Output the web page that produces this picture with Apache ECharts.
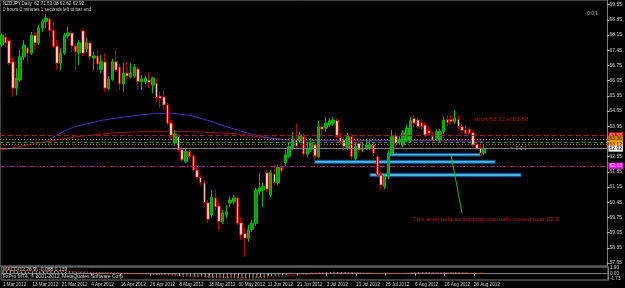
<!DOCTYPE html>
<html><head><meta charset="utf-8">
<script src="https://cdn.jsdelivr.net/npm/echarts@6/dist/echarts.min.js"></script>
<style>html,body{margin:0;padding:0;background:#000;}#c{width:625px;height:288px;}</style>
</head><body><div id="c"></div>
<script>
// ---- data ----
const opens=[67.69,68.06,67.89,66.92,65.71,66.08,67.15,67.56,67.32,68.15,
67.79,68.48,68.77,68.89,68.38,67.65,66.86,67.32,68.11,68.25,
67.65,67.34,68.35,67.51,67.79,67.09,67.19,66.57,66.92,65.70,
66.11,66.92,66.68,65.90,66.40,66.23,66.26,66.59,66.00,66.00,
66.08,65.85,65.94,65.34,65.30,64.93,64.10,63.18,63.47,62.89,
62.32,62.78,62.58,61.93,61.60,61.34,60.43,59.86,60.65,60.28,
59.55,59.86,60.41,60.47,60.65,59.51,59.02,58.79,59.20,59.48,
60.94,61.01,61.81,60.78,61.75,61.35,62.06,62.27,62.58,62.98,
63.32,63.29,63.47,62.67,62.89,63.09,62.55,63.93,63.86,64.01,
64.09,64.21,63.44,63.32,62.93,63.47,62.47,63.17,62.86,62.93,
62.95,63.09,62.55,61.70,61.17,61.63,62.70,63.50,63.24,63.09,
63.32,63.32,64.32,64.24,64.11,64.01,63.75,63.50,63.40,63.32,
63.70,64.27,64.27,64.16,64.27,63.93,63.78,63.81,63.65,63.12,
62.96,62.71];
const closes=[68.15,67.79,66.85,65.70,66.17,67.15,67.69,67.32,68.15,67.79,
68.48,68.77,68.94,68.35,67.61,66.85,67.32,68.15,68.25,67.65,
67.37,67.79,67.31,67.80,67.15,67.19,66.82,66.92,65.70,66.13,
66.92,66.54,65.90,66.40,66.26,66.40,66.68,66.00,66.13,66.17,
65.96,66.17,65.28,65.24,64.93,64.09,63.47,63.59,62.86,62.40,
62.78,62.55,61.93,61.60,61.35,60.43,59.66,60.68,60.24,59.55,
59.95,60.01,60.55,60.65,59.48,58.94,58.79,59.17,59.48,61.01,
61.11,61.17,61.05,61.81,61.35,62.06,61.90,62.63,63.01,63.32,
63.04,63.55,62.67,62.93,63.17,62.58,63.93,63.81,64.09,64.21,
64.24,63.47,63.24,63.01,63.47,62.55,63.01,62.86,62.95,63.09,
63.09,62.70,61.70,61.24,61.63,62.70,63.47,63.17,63.35,63.64,
63.87,64.21,64.09,63.93,63.93,63.55,63.63,63.32,63.70,63.70,
64.24,64.11,64.16,64.32,63.93,63.75,63.63,63.63,63.09,62.93,
62.71,62.92];
const lows=[67.61,67.61,66.77,65.31,65.39,65.99,67.00,66.85,67.23,67.46,
67.69,68.29,68.46,68.00,67.54,66.54,66.54,67.23,68.00,67.38,
66.54,66.77,67.19,67.37,67.00,66.54,66.46,66.39,65.54,65.62,
66.03,66.46,65.62,65.54,66.08,66.16,66.17,65.62,65.62,65.90,
65.70,65.47,65.08,64.78,64.70,64.01,63.32,63.04,62.76,62.30,
62.26,62.40,61.84,61.52,61.20,60.32,59.49,59.72,60.09,59.17,
59.45,59.72,60.24,60.32,59.40,58.71,57.94,58.62,59.08,59.36,
60.78,60.24,60.92,60.69,61.24,61.24,61.80,62.12,62.49,62.86,
62.95,63.18,62.53,62.53,62.76,62.40,62.49,63.55,63.69,63.92,
63.96,63.41,63.13,62.86,62.86,62.40,62.35,62.72,62.76,62.86,
62.86,62.58,61.57,61.01,61.06,61.52,62.63,62.99,63.09,62.99,
63.22,63.22,63.92,63.82,63.78,63.46,63.50,63.22,63.27,63.22,
63.59,63.93,64.01,64.05,63.82,63.64,63.55,63.55,62.99,62.86,
62.58,62.62];
const highs=[68.23,68.23,67.97,67.09,66.62,67.46,67.92,67.61,68.29,68.31,
68.62,68.89,69.12,69.00,68.77,67.92,67.54,68.25,68.54,68.34,
67.74,67.92,68.43,68.02,67.88,67.38,67.46,67.23,67.31,66.26,
67.05,67.46,66.82,66.86,66.92,66.85,66.82,66.68,66.31,66.26,
66.46,66.23,66.16,65.54,65.62,65.02,64.24,63.78,63.59,63.04,
62.95,62.86,62.67,62.17,61.70,61.47,60.55,61.01,61.06,60.41,
60.09,60.32,60.71,60.78,60.74,59.72,59.26,59.40,59.63,61.11,
61.80,61.34,61.93,61.93,62.17,62.17,62.26,62.86,63.18,63.69,
64.09,63.70,63.64,63.18,63.41,63.32,64.19,64.10,64.38,64.33,
64.38,64.33,63.64,63.46,63.64,63.59,63.18,63.32,63.22,63.32,
63.32,63.18,62.67,61.84,61.75,62.86,63.78,63.64,63.50,63.78,
64.01,64.39,64.47,64.38,64.28,64.15,63.92,63.69,63.82,63.82,
64.38,64.47,64.47,64.70,64.42,64.05,64.01,63.92,63.78,63.22,
63.09,63.08];
// moving averages: [bar index, price]
const maBlue=[[12,63.27],[17,63.73],[20,63.94],[27,64.22],[35,64.42],[41,64.53],[46,64.55],[51,64.45],[56,64.22],[62,63.88],[67,63.62],[73,63.40],[78,63.30],[85,63.29],[100,63.29],[110,63.28],[131,63.26]];
const maRed=[[0,62.86],[10,63.18],[20,63.46],[30,63.64],[40,63.72],[50,63.71],[58,63.66],[64,63.59],[70,63.46],[78,63.32],[90,63.28],[105,63.29],[131,63.32]];
// MACD sub window
const macdMain=[1.2,1.15,1.05,0.9,0.8,0.75,0.75,0.72,0.75,0.74,
0.78,0.82,0.85,0.82,0.75,0.62,0.55,0.55,0.56,0.52,
0.46,0.42,0.40,0.36,0.30,0.24,0.17,0.12,0.02,-0.04,
-0.05,-0.08,-0.14,-0.17,-0.19,-0.2,-0.2,-0.24,-0.26,-0.27,
-0.29,-0.3,-0.36,-0.41,-0.47,-0.58,-0.72,-0.8,-0.9,-1.02,
-1.06,-1.1,-1.16,-1.23,-1.3,-1.42,-1.55,-1.58,-1.6,-1.65,
-1.66,-1.65,-1.6,-1.55,-1.58,-1.65,-1.72,-1.7,-1.65,-1.5,
-1.36,-1.24,-1.1,-0.95,-0.85,-0.7,-0.58,-0.42,-0.25,-0.1,
0.0,0.12,0.16,0.2,0.24,0.24,0.34,0.42,0.5,0.56,
0.6,0.56,0.5,0.44,0.42,0.34,0.3,0.26,0.22,0.2,
0.18,0.12,-0.02,-0.15,-0.22,-0.18,-0.08,0.0,0.06,0.12,
0.2,0.3,0.36,0.4,0.42,0.4,0.38,0.32,0.3,0.28,
0.32,0.34,0.36,0.38,0.36,0.32,0.26,0.22,0.12,0.02,
-0.05,-0.068];
const macdSignal=[[0,1.3],[10,0.9],[20,0.6],[30,0.2],[40,-0.2],[50,-0.8],[60,-1.4],[68,-1.6],[75,-1.1],[85,-0.1],[95,0.4],[105,0.0],[115,0.3],[125,0.33],[131,0.139]];
const macdTicks=[1.90,0.00,-1.73];
// horizontal price levels
const levelRed=63.53, levelOrangeHi=63.36, levelGreen=63.22, levelOrangeLo=63.12, levelBid=62.92, levelMagenta=62.13;
// zones: [fromBar, toBar, priceTop, priceBottom]
const zones=[[105,130,62.70,62.58],[85,134,62.38,62.24],[100,141,61.78,61.63]];
const trendLine=[[122,62.63],[125,59.95]];
const priceTicks=[57.65,58.35,59.05,59.75,60.45,61.15,61.85,62.55,63.25,63.95,64.65,65.35,66.05,66.75,67.45,68.15,68.85,69.55];
const tickLabels=['1 Mar 2012','13 Mar 2012','21 Mar 2012','4 Apr 2012','16 Apr 2012','26 Apr 2012','8 May 2012','18 May 2012','30 May 2012','11 Jun 2012','21 Jun 2012','3 Jul 2012','13 Jul 2012','25 Jul 2012','6 Aug 2012','16 Aug 2012','28 Aug 2012'];
const tickStep=8;
const slotCount=165;

// ---- build ----
const cats=Array.from({length:slotCount},(_,i)=>'b'+i);
const candles=opens.map((o,i)=>[o,closes[i],lows[i],highs[i]]);
const F='"Liberation Sans", Arial, sans-serif';
const axisGrey='#808080';
function priceLabel(v,bg,fg){return {yAxis:v,label:{show:true,position:'end',distance:1,formatter:v.toFixed(2),backgroundColor:bg,color:fg,fontSize:5,fontFamily:F,padding:[1,1,0,1]}};}
const chart=echarts.init(document.getElementById('c'),null,{renderer:'canvas'});
chart.setOption({
  animation:false,
  backgroundColor:'#000',
  grid:[
    {left:0,right:17,top:0,height:266,show:true,borderColor:axisGrey,borderWidth:1},
    {left:0,right:17,top:267,height:13,show:true,borderColor:axisGrey,borderWidth:1}
  ],
  xAxis:[
    {type:'category',data:cats,gridIndex:0,boundaryGap:true,axisLine:{show:false},axisTick:{show:false},axisLabel:{show:false},splitLine:{show:false}},
    {type:'category',data:cats,gridIndex:1,boundaryGap:true,position:'bottom',
     axisLine:{show:true,lineStyle:{color:axisGrey}},
     axisTick:{show:true,alignWithLabel:true,length:2,interval:(i)=>i%tickStep===0&&i/tickStep<tickLabels.length,lineStyle:{color:'#c0c0c0'}},
     axisLabel:{show:true,interval:(i)=>i%tickStep===0&&i/tickStep<tickLabels.length,formatter:(v,i)=>tickLabels[i/tickStep]||'',align:'left',color:'#d0d0d0',fontSize:4.6,fontFamily:F,margin:2},
     splitLine:{show:false}}
  ],
  yAxis:[
    {type:'value',gridIndex:0,position:'right',min:57.512,max:69.7665,
     axisLine:{show:true,lineStyle:{color:axisGrey}},
     axisTick:{show:true,length:2,customValues:priceTicks,lineStyle:{color:'#c0c0c0'}},
     axisLabel:{show:true,customValues:priceTicks,formatter:(v)=>v.toFixed(2),color:'#d0d0d0',fontSize:5,fontFamily:F,margin:2},
     splitLine:{show:false}},
    {type:'value',gridIndex:1,position:'right',min:-2.3,max:2.3,
     axisLine:{show:true,lineStyle:{color:axisGrey}},
     axisTick:{show:false},
     axisLabel:{show:true,customValues:macdTicks,formatter:(v)=>v.toFixed(2),color:'#d0d0d0',fontSize:4.6,fontFamily:F,margin:2},
     splitLine:{show:false}}
  ],
  series:[
    {type:'line',name:'MA slow',xAxisIndex:0,yAxisIndex:0,data:maRed,symbol:'none',connectNulls:true,lineStyle:{color:'#9e1212',width:1},z:1},
    {type:'line',name:'MA fast',xAxisIndex:0,yAxisIndex:0,data:maBlue,symbol:'none',connectNulls:true,lineStyle:{color:'#4a2cc0',width:1},z:1},
    {type:'candlestick',name:'NZDJPY',xAxisIndex:0,yAxisIndex:0,data:candles,barWidth:3,z:3,
     itemStyle:{color:'#009a00',color0:'#ffc4c4',borderColor:'#00c000',borderColor0:'#b80000',borderWidth:1},
     markLine:{silent:true,symbol:['none','none'],animation:false,
       data:[
         Object.assign(priceLabel(levelRed,'#ff1010','#ffe0e0'),{lineStyle:{color:'#a01818',type:[5,3],width:1}}),
         Object.assign(priceLabel(levelOrangeHi,'#e08a00','#402000'),{lineStyle:{color:'#b08a00',type:[1,2],width:1}}),
         {yAxis:levelGreen,label:{show:false},lineStyle:{color:'#00b000',type:[3,3],width:1}},
         Object.assign(priceLabel(levelOrangeLo,'#ffa020','#402000'),{lineStyle:{color:'#c86400',type:[1,2],width:1}}),
         Object.assign(priceLabel(levelBid,'#ffffff','#000000'),{lineStyle:{color:'#808080',type:'solid',width:1}}),
         Object.assign(priceLabel(levelMagenta,'#ff00ff','#ffffff'),{lineStyle:{color:'#a01888',type:[5,2,1,2],width:1}}),
         [{coord:trendLine[0],label:{show:false},lineStyle:{color:'#00c800',type:'solid',width:1}},{coord:trendLine[1]}]
       ]},
     markArea:{silent:true,itemStyle:{color:'#42b8dc',borderColor:'#1a4c9c',borderWidth:1},
       data:zones.map(z=>[{coord:[z[0],z[2]]},{coord:[z[1],z[3]]}])}
    },
    {type:'bar',name:'MACD',xAxisIndex:1,yAxisIndex:1,data:macdMain,barWidth:1,itemStyle:{color:'#a8a8a8'},z:1},
    {type:'line',name:'Signal',xAxisIndex:1,yAxisIndex:1,data:macdSignal,symbol:'none',connectNulls:true,lineStyle:{color:'#ff2020',type:[1,2],width:1},z:2}
  ],
  graphic:[
    {type:'text',left:3,top:1,style:{text:'NZDJPY,Daily  62.71 63.08 62.62 62.92',fill:'#d8d8d8',font:'4.6px '+F}},
    {type:'text',left:3,top:7,style:{text:'0 hours 0 minutes 1 seconds left to bar end',fill:'#d8d8d8',font:'4.6px '+F}},
    {type:'text',left:587,top:11,style:{text:'0:0:1',fill:'#b0b0b0',font:'5px '+F}},
    {type:'text',left:474,top:116,style:{text:'short 63.22 sl 63.88',fill:'#c8102a',font:'6.2px '+F}},
    {type:'text',left:413,top:216,style:{text:'This level held as support, manually closed near 62.9',fill:'#c8102a',font:'6.2px '+F}},
    {type:'text',left:510,top:146,style:{text:'<  0:0:1',fill:'#a0a0a0',font:'5px '+F}},
    {type:'text',left:3,top:267.5,style:{text:'MACD(12,26,9) -0.068 0.139',fill:'#d8d8d8',font:'5px '+F}},
    {type:'text',left:3,top:274,style:{text:'FxPro MT4, \u00a9 2001-2012, MetaQuotes Software Corp.',fill:'#d8d8d8',font:'5px '+F}}
  ]
});
</script></body></html>
